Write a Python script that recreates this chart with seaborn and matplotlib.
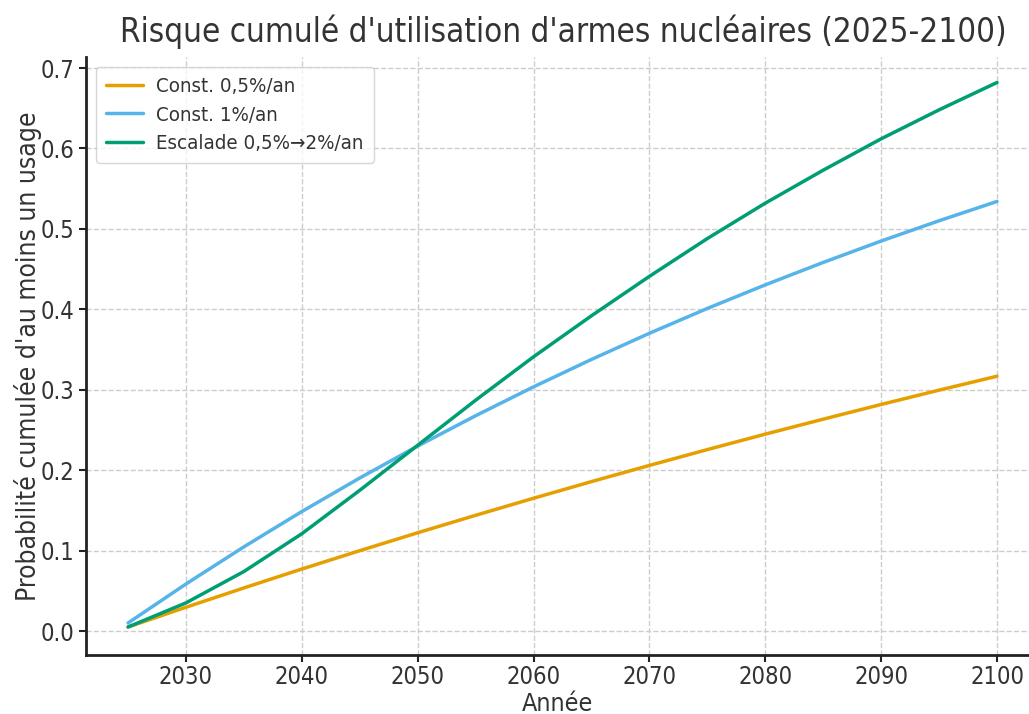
import numpy as np
import pandas as pd
import matplotlib
matplotlib.use("Agg")
import matplotlib.pyplot as plt
import seaborn as sns

years = [2025, 2030, 2035, 2040, 2045, 2050, 2055, 2060, 2065, 2070,
         2075, 2080, 2085, 2090, 2095, 2100]
const_05 = [0.0050, 0.0296, 0.0536, 0.0771, 0.0999, 0.1222, 0.1439, 0.1651,
            0.1858, 0.2059, 0.2256, 0.2448, 0.2634, 0.2817, 0.2995, 0.3168]
const_1 = [0.0100, 0.0585, 0.1047, 0.1486, 0.1903, 0.2300, 0.2677, 0.3036,
           0.3377, 0.3702, 0.4011, 0.4304, 0.4583, 0.4849, 0.5101, 0.5341]
escalade = [0.005, 0.035, 0.074, 0.121, 0.175, 0.231, 0.287, 0.341, 0.392,
            0.441, 0.488, 0.532, 0.573, 0.612, 0.648, 0.682]
labels = ["Const. 0,5%/an", "Const. 1%/an", "Escalade 0,5%→2%/an"]
colors = ["#E69F00", "#56B4E9", "#009E73"]

df = pd.concat([
    pd.DataFrame({"Année": years, "p": vals, "Scénario": lab})
    for vals, lab in zip([const_05, const_1, escalade], labels)
])

sns.set_theme(style="ticks")
plt.rcParams["font.family"] = ["DejaVu Sans"]
plt.rcParams["font.stretch"] = "condensed"

fig = plt.figure(figsize=(10.29, 7.14), dpi=100)
ax = fig.add_axes([86 / 1029, 1 - 655 / 714, (1029 - 86) / 1029, (655 - 57) / 714])

sns.lineplot(data=df, x="Année", y="p", hue="Scénario", palette=colors,
             hue_order=labels, linewidth=2.5, ax=ax)

ax.set_xlim(2021.37, 2102.76)
ax.set_ylim(-0.0298, 0.7137)
ax.set_xticks(range(2030, 2101, 10))
ax.set_yticks(np.arange(0, 0.71, 0.1))
ax.yaxis.set_major_formatter(matplotlib.ticker.FormatStrFormatter("%.1f"))
ax.grid(True, linestyle="--", color="#cccccc", linewidth=1)
for s in ["top", "right"]:
    ax.spines[s].set_visible(False)
for s in ["left", "bottom"]:
    ax.spines[s].set_linewidth(2)
    ax.spines[s].set_color("#222222")
ax.tick_params(axis="both", labelsize=17, length=5, width=1.5, colors="#222222",
               labelcolor="#333333")
ax.tick_params(axis="x", pad=2.5)
ax.set_xlabel("Année", fontsize=18, color="#333333", labelpad=2)
ax.set_ylabel("Probabilité cumulée d'au moins un usage", fontsize=19,
              color="#333333", labelpad=-1)
ax.set_title("Risque cumulé d'utilisation d'armes nucléaires (2025-2100)",
             fontsize=23.8, color="#333333", pad=10.5, x=0.506)
leg = ax.legend(loc="upper left", fontsize=14.7, frameon=True, title=None,
                borderpad=0.5, handlelength=1.8, handletextpad=0.65,
                labelspacing=0.45)
leg.get_frame().set_edgecolor("#cccccc")
for t in leg.get_texts():
    t.set_color("#333333")

fig.savefig("out.png", dpi=100)
